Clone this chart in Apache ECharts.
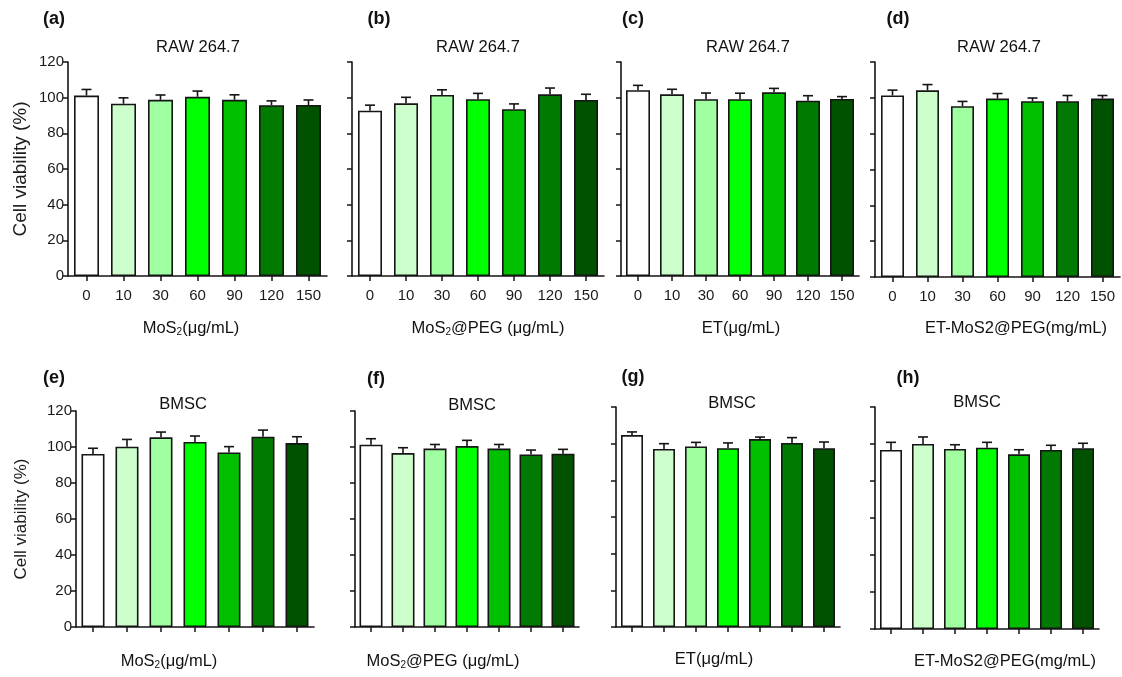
<!DOCTYPE html>
<html>
<head>
<meta charset="utf-8">
<script src="https://cdn.jsdelivr.net/npm/echarts@6/dist/echarts.min.js"></script>
<style>
html,body{margin:0;padding:0;background:#fff;}
#c{width:1122px;height:677px;}
</style>
</head>
<body>
<div id="c"></div>
<script>
const categories = ['0', '10', '30', '60', '90', '120', '150'];
const barColors = ['#ffffff', '#ccffcc', '#a0ffa0', '#00ff00', '#00c000', '#007a00', '#005200'];
const yTicks = [0, 20, 40, 60, 80, 100, 120];

// RAW 264.7
const valA = [101.2, 96.6, 98.8, 100.5, 98.8, 95.8, 95.9];
const errA = [3.4, 3.3, 2.7, 3.2, 2.8, 2.4, 2.8];
const valB = [92.7, 96.8, 101.5, 99.1, 93.5, 101.9, 98.7];
const errB = [3.1, 3.4, 2.9, 3.3, 3.0, 3.5, 3.2];
const valC = [104.2, 101.9, 99.1, 99.1, 103.0, 98.3, 99.3];
const errC = [2.7, 2.8, 3.5, 3.4, 2.2, 2.8, 1.3];
const valD = [101.3, 104.2, 95.3, 99.6, 98.1, 98.1, 99.6];
const errD = [3.0, 3.2, 2.7, 2.8, 1.8, 3.2, 1.7];
// BMSC
const valE = [96.1, 100.2, 105.4, 102.8, 97.0, 105.7, 102.2];
const errE = [3.2, 4.0, 2.9, 3.3, 3.2, 3.7, 3.5];
const valF = [101.3, 96.6, 99.1, 100.5, 99.1, 95.9, 96.3];
const errF = [3.3, 3.0, 2.3, 3.2, 2.3, 2.4, 2.4];
const valG = [104.7, 97.1, 98.5, 97.5, 102.5, 100.4, 97.5];
const errG = [1.7, 2.9, 2.2, 2.9, 1.1, 2.9, 3.4];
const valH = [96.8, 100.0, 97.3, 98.0, 94.4, 96.8, 97.7];
const errH = [4.1, 3.8, 2.3, 2.9, 2.5, 2.5, 2.7];

const FONT = "'Liberation Sans', Arial, Helvetica, sans-serif";
const INK = '#151515';

const panels = [
  {v: valA, e: errA, left: 68,  top: 62,  width: 259, height: 214, bw: 25, yLabels: true,  xLabels: true},
  {v: valB, e: errB, left: 352, top: 62,  width: 252, height: 214, bw: 24, yLabels: false, xLabels: true},
  {v: valC, e: errC, left: 621, top: 62,  width: 238, height: 214, bw: 24, yLabels: false, xLabels: true},
  {v: valD, e: errD, left: 875, top: 62,  width: 245, height: 215, bw: 23, yLabels: false, xLabels: true},
  {v: valE, e: errE, left: 76,  top: 411, width: 238, height: 216, bw: 23, yLabels: true,  xLabels: false},
  {v: valF, e: errF, left: 355, top: 411, width: 224, height: 216, bw: 23, yLabels: false, xLabels: false},
  {v: valG, e: errG, left: 616, top: 407, width: 224, height: 220, bw: 22, yLabels: false, xLabels: false},
  {v: valH, e: errH, left: 875, top: 407, width: 224, height: 222, bw: 22, yLabels: false, xLabels: false}
];

const grids = [], xAxes = [], yAxes = [], series = [];
panels.forEach((p, i) => {
  grids.push({left: p.left, top: p.top, width: p.width, height: p.height, containLabel: false});
  xAxes.push({
    type: 'category', gridIndex: i, data: categories, boundaryGap: true,
    axisLine: {show: true, lineStyle: {color: INK, width: 1.6}},
    axisTick: {show: true, alignWithLabel: true, interval: 0, length: 5, lineStyle: {color: INK, width: 1.5}},
    axisLabel: {show: true, interval: 0, color: p.xLabels ? '#1a1a1a' : 'rgba(0,0,0,0)', fontSize: 15, fontFamily: FONT, margin: 12},
    splitLine: {show: false}
  });
  yAxes.push({
    type: 'value', gridIndex: i, min: yTicks[0], max: yTicks[yTicks.length - 1], interval: 20,
    name: p.yLabels ? 'Cell viability (%)' : '',
    nameLocation: 'middle', nameGap: i === 0 ? 38 : 46, nameRotate: 90,
    nameTextStyle: {color: '#1a1a1a', fontSize: i === 0 ? 19 : 17, fontFamily: FONT},
    axisLine: {show: true, lineStyle: {color: INK, width: 1.6}},
    axisTick: {show: true, length: 5, lineStyle: {color: INK, width: 1.5}},
    axisLabel: {show: p.yLabels, color: '#1a1a1a', fontSize: 15, fontFamily: FONT, margin: 4},
    splitLine: {show: false}
  });
  series.push({
    type: 'bar', xAxisIndex: i, yAxisIndex: i, barWidth: p.bw,
    data: p.v.map((val, k) => ({value: val, itemStyle: {color: barColors[k]}})),
    itemStyle: {borderColor: INK, borderWidth: 1.6},
    silent: true, animation: false
  });
  series.push({
    type: 'custom', xAxisIndex: i, yAxisIndex: i,
    data: p.v.map((val, k) => [k, val, p.e[k]]),
    encode: {x: 0, y: 1},
    z: 5, silent: true, animation: false,
    renderItem: function (params, api) {
      const x = api.value(0), v = api.value(1), e = api.value(2);
      const p0 = api.coord([x, v]);
      const p1 = api.coord([x, v + e]);
      const st = {stroke: INK, lineWidth: 1.6};
      return {type: 'group', children: [
        {type: 'line', shape: {x1: p0[0], y1: p0[1], x2: p1[0], y2: p1[1]}, style: st},
        {type: 'line', shape: {x1: p1[0] - 5, y1: p1[1], x2: p1[0] + 5, y2: p1[1]}, style: st}
      ]};
    }
  });
});

function txt(x, y, text, size, bold) {
  return {type: 'text', x: x, y: y, silent: true,
    style: {text: text, fill: '#111', font: (bold ? 'bold ' : '') + size + 'px ' + FONT,
      align: 'center', verticalAlign: 'middle',
      rich: {sub: {fontSize: Math.round(size * 0.62), fill: '#111', fontFamily: FONT, verticalAlign: 'bottom', padding: [9, 0, 0, 0]}}}};
}

const graphics = [
  txt(54, 19, '(a)', 18, true), txt(379, 19, '(b)', 18, true), txt(633, 19, '(c)', 18, true), txt(898, 19, '(d)', 18, true),
  txt(54, 378, '(e)', 18, true), txt(376, 379, '(f)', 18, true), txt(633, 377, '(g)', 18, true), txt(908, 378, '(h)', 18, true),
  txt(198, 47, 'RAW 264.7', 16.5), txt(478, 47, 'RAW 264.7', 16.5), txt(748, 47, 'RAW 264.7', 16.5), txt(999, 47, 'RAW 264.7', 16.5),
  txt(183, 404, 'BMSC', 16.5), txt(472, 405, 'BMSC', 16.5), txt(732, 403, 'BMSC', 16.5), txt(977, 402, 'BMSC', 16.5),
  txt(191, 328, 'MoS{sub|2}(μg/mL)', 16.5), txt(488, 328, 'MoS{sub|2}@PEG (μg/mL)', 16.5),
  txt(741, 328, 'ET(μg/mL)', 16.5), txt(1016, 328, 'ET-MoS2@PEG(mg/mL)', 16.5),
  txt(169, 661, 'MoS{sub|2}(μg/mL)', 16.5), txt(443, 661, 'MoS{sub|2}@PEG (μg/mL)', 16.5),
  txt(714, 659, 'ET(μg/mL)', 16.5), txt(1005, 661, 'ET-MoS2@PEG(mg/mL)', 16.5)
];

const chart = echarts.init(document.getElementById('c'), null, {renderer: 'canvas'});
chart.setOption({
  backgroundColor: '#ffffff',
  animation: false,
  grid: grids, xAxis: xAxes, yAxis: yAxes, series: series,
  graphic: graphics
});
</script>
</body>
</html>
